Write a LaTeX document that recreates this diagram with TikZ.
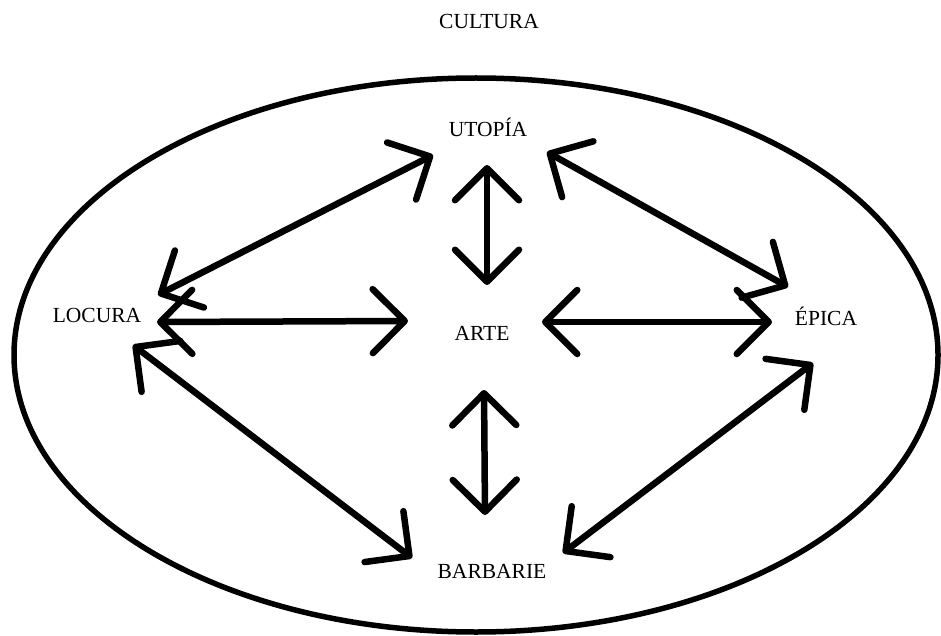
\documentclass[tikz,border=0pt]{standalone}
\usepackage{fontspec}
\setmainfont{Liberation Serif}
\usetikzlibrary{arrows.meta}
\tikzset{
  lbl/.style={anchor=base, inner sep=0pt, font=\fontsize{21.5}{25}\selectfont},
  link/.style={line width=6.5pt, line cap=round, line join=round,
    {Straight Barb[round, length=32pt, width=64pt]}-{Straight Barb[round, length=32pt, width=64pt]}},
  frame/.style={line width=5.5pt}
}
\begin{document}
\begin{tikzpicture}[x=1pt, y=-1pt]
\useasboundingbox (0,0) rectangle (941,636);
\draw[frame] (476,355) ellipse [x radius=462, y radius=277];
% labels
\node[lbl] (cultura)  at (489,29)  {CULTURA};
\node[lbl] (utopia)   at (488,137) {UTOPÍA};
\node[lbl] (locura)   at (97,322)  {LOCURA};
\node[lbl] (arte)     at (482,340) {ARTE};
\node[lbl] (epica)    at (826,325) {ÉPICA};
\node[lbl] (barbarie) at (492,578) {BARBARIE};
% arrow end points
\coordinate (lu1) at (158,295); \coordinate (lu2) at (433,155);
\coordinate (ua1) at (487,165); \coordinate (ua2) at (487,285);
\coordinate (ue1) at (547,152); \coordinate (ue2) at (788,287);
\coordinate (la1) at (157,322); \coordinate (la2) at (408,321);
\coordinate (ae1) at (542,322); \coordinate (ae2) at (772,322);
\coordinate (lb1) at (133,345); \coordinate (lb2) at (412,558);
\coordinate (ab1) at (484,390); \coordinate (ab2) at (485,515);
\coordinate (be1) at (563,553); \coordinate (be2) at (813,363);
% connectors
\draw[link] (lu1) -- (lu2);
\draw[link] (ua1) -- (ua2);
\draw[link] (ue1) -- (ue2);
\draw[link] (la1) -- (la2);
\draw[link] (ae1) -- (ae2);
\draw[link] (lb1) -- (lb2);
\draw[link] (ab1) -- (ab2);
\draw[link] (be1) -- (be2);
\end{tikzpicture}
\end{document}
